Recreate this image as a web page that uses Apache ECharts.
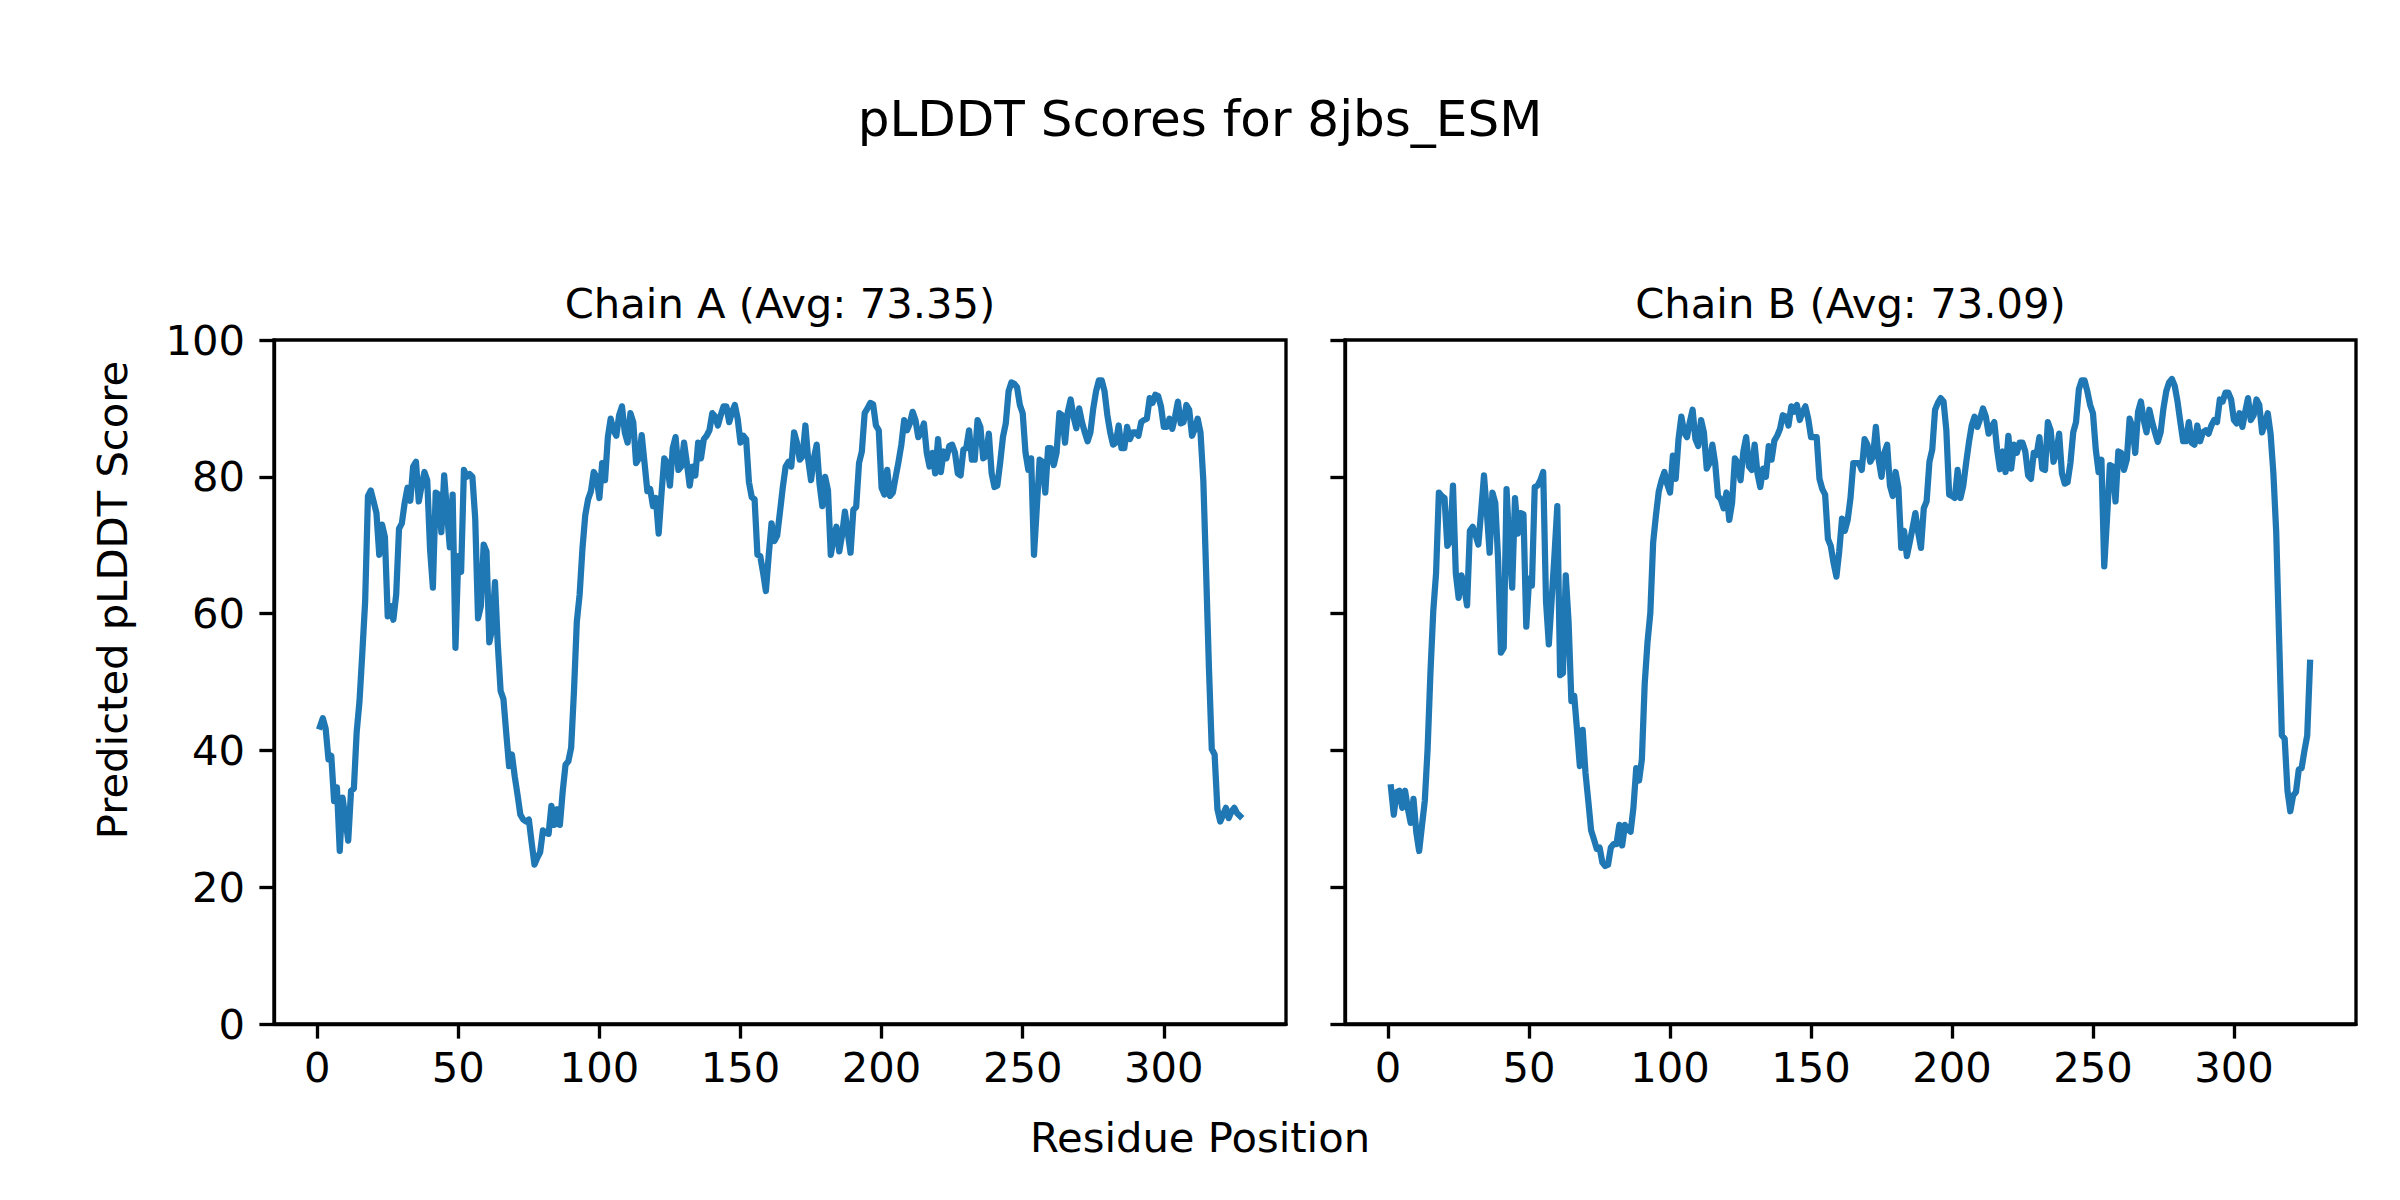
<!DOCTYPE html>
<html><head><meta charset="utf-8">
<script src="https://cdn.jsdelivr.net/npm/echarts@6/dist/echarts.min.js"></script>
<style>html,body{margin:0;padding:0;background:#fff}#c{width:2400px;height:1200px}</style>
</head><body><div id="c"></div>
<script>
const chainA = [
43.5, 44.7, 43.2, 38.7, 39.2, 32.6, 34.6, 25.3, 33.1, 30.0,
26.8, 34.1, 34.4, 42.7, 47.2, 54.3, 61.8, 77.2, 78.0, 76.4,
74.7, 68.6, 73.0, 71.2, 59.6, 61.1, 59.1, 62.8, 72.4, 73.2,
76.2, 78.4, 76.5, 81.5, 82.2, 76.4, 78.7, 80.7, 79.5, 69.4,
63.8, 77.7, 77.4, 71.9, 80.2, 74.9, 69.7, 77.4, 55.0, 68.4,
66.1, 81.0, 80.0, 80.4, 80.0, 73.9, 59.3, 61.1, 70.1, 69.1,
55.8, 57.8, 64.6, 55.5, 48.7, 47.5, 42.5, 37.7, 39.4, 36.2,
33.5, 30.6, 29.9, 29.6, 29.9, 26.5, 23.3, 24.3, 25.1, 28.3,
28.0, 27.8, 31.9, 29.1, 31.4, 29.1, 34.0, 37.9, 38.4, 40.4,
48.7, 58.8, 62.8, 69.5, 74.4, 76.7, 77.9, 80.7, 79.9, 76.9,
82.0, 79.5, 85.8, 88.5, 86.8, 86.0, 89.0, 90.3, 86.5, 85.0,
89.3, 88.0, 82.0, 82.7, 86.1, 82.0, 77.9, 78.2, 75.7, 76.9,
71.7, 77.5, 82.7, 82.0, 78.7, 84.2, 85.8, 81.0, 81.5, 85.0,
82.0, 78.7, 81.5, 80.2, 85.0, 82.7, 85.5, 86.0, 86.8, 89.3,
88.8, 87.5, 89.0, 90.3, 90.3, 88.0, 89.5, 90.5, 88.5, 85.0,
86.0, 85.5, 79.2, 77.0, 76.7, 68.6, 68.4, 66.0, 63.3, 68.5,
73.2, 70.6, 71.4, 74.9, 78.5, 81.5, 82.2, 81.5, 86.5, 85.0,
82.5, 83.0, 87.5, 82.5, 79.5, 82.7, 84.7, 79.0, 75.7, 80.0,
78.0, 68.6, 71.0, 72.7, 69.1, 71.5, 74.9, 71.9, 68.9, 75.2,
75.6, 82.0, 83.7, 89.3, 90.0, 90.8, 90.6, 87.5, 86.8, 78.4,
77.4, 81.0, 77.2, 77.7, 80.0, 82.2, 84.7, 88.3, 86.8, 87.8,
89.5, 88.3, 85.8, 86.5, 87.8, 83.5, 81.5, 83.5, 80.5, 85.5,
80.7, 83.7, 82.7, 84.5, 84.7, 83.5, 80.5, 80.2, 84.0, 84.2,
86.8, 82.5, 82.5, 88.3, 87.3, 82.7, 83.0, 86.3, 80.5, 78.5,
78.7, 82.0, 85.8, 87.8, 92.5, 93.8, 93.6, 93.1, 90.5, 89.3,
83.5, 81.0, 82.7, 68.6, 75.5, 82.5, 82.2, 77.7, 84.2, 84.2,
81.7, 83.5, 89.3, 89.0, 85.0, 89.5, 91.3, 88.8, 87.1, 90.0,
88.0, 86.5, 85.2, 86.5, 90.0, 92.5, 94.1, 94.1, 92.5, 89.0,
86.5, 84.7, 85.0, 87.5, 84.2, 84.2, 87.3, 85.5, 86.5, 86.5,
86.0, 88.0, 88.3, 88.5, 91.5, 90.8, 92.0, 91.8, 90.3, 87.3,
87.3, 88.5, 87.0, 88.8, 91.0, 87.8, 88.0, 90.5, 89.8, 86.0,
87.0, 88.5, 86.5, 79.5, 66.0, 52.0, 40.2, 39.4, 31.4, 29.6,
30.6, 31.6, 30.1, 31.1, 31.6, 30.8, 30.4
];
const chainB = [
34.6, 30.6, 33.9, 34.1, 31.6, 34.1, 31.5, 29.4, 32.9, 28.0,
25.3, 29.0, 32.6, 40.2, 51.3, 60.3, 65.9, 77.7, 77.2, 76.9,
69.9, 70.6, 78.7, 65.9, 62.3, 65.6, 63.8, 61.2, 72.1, 72.7,
71.5, 70.1, 75.0, 80.2, 74.9, 68.9, 77.7, 76.2, 68.0, 54.3,
55.0, 78.2, 70.0, 63.8, 76.9, 71.7, 74.7, 74.5, 58.1, 65.1,
64.1, 78.5, 78.7, 79.5, 80.7, 61.8, 55.5, 62.0, 68.5, 75.7,
51.0, 51.3, 65.6, 58.8, 47.2, 48.0, 43.0, 37.7, 43.0, 36.7,
32.6, 28.3, 27.0, 25.6, 25.8, 23.6, 23.1, 23.3, 25.8, 26.3,
26.3, 29.1, 26.1, 29.1, 28.5, 28.1, 31.6, 37.4, 35.6, 38.7,
49.7, 55.8, 60.1, 70.4, 74.4, 77.9, 79.5, 80.7, 78.9, 77.7,
83.1, 79.7, 85.5, 88.8, 86.5, 85.8, 88.0, 89.8, 85.5, 84.5,
88.3, 86.5, 81.2, 82.0, 84.7, 82.0, 77.2, 76.7, 75.4, 77.7,
73.7, 76.2, 82.7, 82.0, 79.5, 83.7, 85.8, 81.5, 81.0, 84.7,
80.5, 78.5, 81.2, 80.0, 84.5, 82.5, 85.3, 86.0, 87.0, 89.0,
88.8, 87.5, 90.3, 89.5, 90.5, 88.3, 89.5, 90.3, 88.5, 85.8,
85.8, 85.8, 79.7, 78.2, 77.4, 70.9, 69.9, 67.4, 65.4, 69.1,
73.9, 72.1, 73.7, 76.9, 82.0, 82.0, 82.0, 81.0, 85.5, 84.7,
82.2, 83.0, 87.3, 82.5, 80.0, 83.5, 84.7, 78.7, 77.2, 80.7,
78.4, 69.6, 72.1, 68.4, 70.4, 72.5, 74.7, 71.9, 69.6, 75.4,
76.4, 82.2, 84.0, 89.8, 90.8, 91.5, 91.0, 86.8, 77.4, 77.2,
76.9, 81.0, 76.9, 78.7, 82.0, 85.0, 87.5, 88.8, 87.3, 88.5,
90.0, 88.8, 86.3, 87.3, 88.0, 84.0, 81.1, 83.7, 80.7, 86.0,
81.2, 84.7, 83.5, 85.0, 85.0, 83.7, 80.2, 79.7, 83.5, 83.2,
85.8, 81.2, 81.0, 88.0, 86.8, 82.2, 83.5, 86.3, 80.5, 79.0,
79.2, 82.0, 86.5, 88.0, 92.8, 94.1, 94.1, 92.5, 90.5, 89.3,
84.0, 80.7, 82.5, 66.9, 74.0, 81.7, 81.5, 76.4, 83.7, 83.5,
81.0, 82.5, 88.5, 87.3, 83.5, 89.5, 91.0, 88.3, 86.5, 89.8,
88.0, 86.5, 85.1, 86.5, 90.0, 92.5, 93.8, 94.3, 93.3, 91.0,
88.0, 85.2, 85.2, 88.0, 85.0, 84.7, 87.5, 85.2, 86.5, 86.8,
86.3, 87.5, 88.3, 88.0, 91.3, 91.0, 92.3, 92.3, 91.3, 88.3,
87.8, 89.3, 87.3, 89.5, 91.5, 88.3, 89.0, 91.3, 90.5, 86.5,
87.8, 89.3, 86.3, 80.5, 71.9, 56.8, 42.2, 41.7, 34.1, 31.1,
33.4, 33.9, 37.2, 37.4, 39.9, 42.2, 52.8
];
const xTicks = [0, 50, 100, 150, 200, 250, 300];
const yTicks = [0, 20, 40, 60, 80, 100];
const chartTitle = 'pLDDT Scores for 8jbs_ESM';
const subTitles = ['Chain A (Avg: 73.35)', 'Chain B (Avg: 73.09)'];
const xLabel = 'Residue Position';
const yLabel = 'Predicted pLDDT Score';

const FONT = '"DejaVu Sans", "Liberation Sans", sans-serif';
const BLUE = '#1f77b4';
const series = [chainA, chainB];
const n = Math.max(chainA.length, chainB.length);
const pad = 0.05 * (n - 1);
const xMin = 1 - pad, xMax = n + pad;
const grids = [
  {left: 274, top: 340, width: 1012, height: 684},
  {left: 1345, top: 340, width: 1011, height: 684}
];
const tickStyle = {color: '#000', width: 3.33};
const chart = echarts.init(document.getElementById('c'), null, {renderer: 'svg'});
const txt = (text, x, y, size, extra) => Object.assign({
  type: 'text', x: x, y: y, silent: true,
  style: {text: text, font: size + 'px ' + FONT, fill: '#000',
          align: 'center', verticalAlign: 'middle', textAlign: 'center', textVerticalAlign: 'middle'}
}, extra || {});
chart.setOption({
  animation: false,
  backgroundColor: '#fff',
  grid: grids.map(g => Object.assign({show: true, borderColor: '#000', borderWidth: 3.33, backgroundColor: 'transparent', containLabel: false}, g)),
  xAxis: grids.map((g, i) => ({
    gridIndex: i, type: 'value', min: xMin, max: xMax,
    axisLine: {show: true, onZero: false, lineStyle: tickStyle},
    splitLine: {show: false},
    axisTick: {show: true, customValues: xTicks, length: 14.6, lineStyle: tickStyle},
    axisLabel: {show: true, customValues: xTicks, fontSize: 41.7, color: '#000', fontFamily: FONT, margin: 22}
  })),
  yAxis: grids.map((g, i) => ({
    gridIndex: i, type: 'value', min: yTicks[0], max: yTicks[yTicks.length - 1], interval: 20,
    axisLine: {show: true, onZero: false, lineStyle: tickStyle},
    splitLine: {show: false},
    axisTick: {show: true, length: 14.6, lineStyle: tickStyle},
    axisLabel: {show: i === 0, fontSize: 41.7, color: '#000', fontFamily: FONT, margin: 29}
  })),
  series: series.map((arr, i) => ({
    type: 'line', xAxisIndex: i, yAxisIndex: i,
    data: arr.map((v, k) => [k + 1, v]),
    showSymbol: false, symbol: 'none', smooth: false,
    lineStyle: {color: BLUE, width: 6.25, cap: 'square', join: 'round'},
    itemStyle: {color: BLUE}, clip: true, z: 1
  })),
  graphic: [
    txt(chartTitle, 1200, 119, 50),
    txt(subTitles[0], 780, 303, 41.7),
    txt(subTitles[1], 1850.5, 303, 41.7),
    txt(xLabel, 1200, 1137, 41.7),
    txt(yLabel, 112, 600, 41.7, {rotation: Math.PI / 2})
  ]
});
</script></body></html>
